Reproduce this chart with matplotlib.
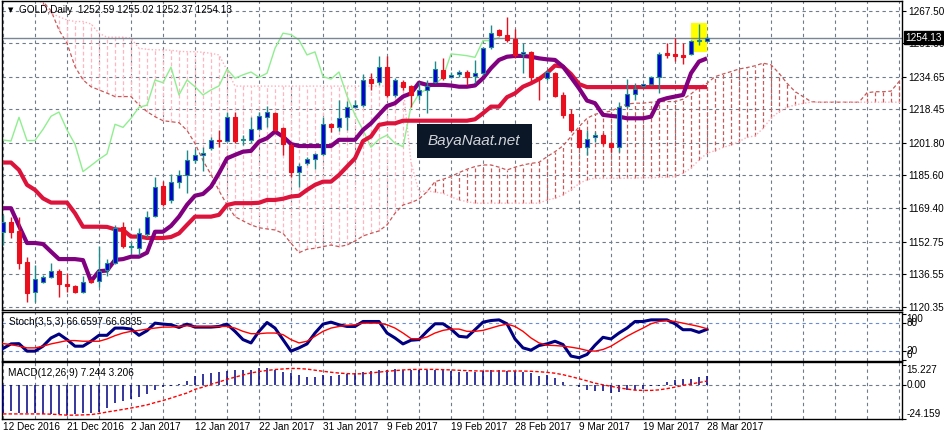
import numpy as np
import matplotlib
matplotlib.use('Agg')
import matplotlib.pyplot as plt
from matplotlib.patches import Rectangle
from matplotlib.transforms import blended_transform_factory

# ---- daily GOLD candles, 12 Dec 2016 .. 28 Mar 2017 (89 bars) ----
opens = [1157.5, 1162.3, 1158.0, 1142.4, 1127.5, 1132.8, 1135.0, 1138.0, 1131.6, 1130.5,
         1127.7, 1133.5, 1133.0, 1138.6, 1141.9, 1159.8, 1150.2, 1149.4, 1156.5, 1165.4,
         1180.4, 1173.4, 1182.2, 1185.7, 1193.1, 1195.6, 1199.1, 1203.4, 1202.9, 1214.5,
         1203.0, 1203.2, 1208.8, 1214.8, 1216.8, 1209.0, 1200.7, 1187.5, 1191.6, 1193.6,
         1196.3, 1211.0, 1209.5, 1214.5, 1219.5, 1220.6, 1233.4, 1231.9, 1239.4, 1225.8,
         1232.1, 1230.1, 1225.6, 1228.1, 1232.2, 1238.0, 1234.4, 1235.9, 1237.0, 1235.0,
         1236.4, 1249.6, 1257.9, 1255.6, 1253.3, 1246.0, 1247.1, 1234.5, 1233.9, 1236.4,
         1225.6, 1216.0, 1208.2, 1199.9, 1204.6, 1205.6, 1201.6, 1199.6, 1220.3, 1226.1,
         1230.2, 1230.9, 1234.4, 1246.3, 1246.1, 1245.5, 1246.0, 1252.6, 1252.59]
highs = [1166.0, 1164.8, 1164.8, 1145.2, 1141.0, 1136.0, 1142.0, 1139.0, 1137.3, 1131.2,
         1135.6, 1134.0, 1150.5, 1143.9, 1161.0, 1162.6, 1152.4, 1159.3, 1167.9, 1184.7,
         1182.8, 1186.3, 1188.3, 1198.3, 1198.6, 1199.6, 1204.9, 1208.2, 1217.3, 1217.3,
         1205.7, 1214.5, 1217.3, 1220.1, 1217.3, 1209.8, 1201.6, 1191.6, 1194.9, 1196.6,
         1214.8, 1211.5, 1223.0, 1222.5, 1223.1, 1236.0, 1236.4, 1245.0, 1245.0, 1233.9,
         1233.1, 1230.6, 1232.2, 1233.1, 1242.5, 1244.1, 1237.2, 1238.0, 1238.0, 1243.0,
         1249.6, 1260.4, 1258.5, 1264.2, 1258.3, 1251.3, 1247.6, 1234.7, 1237.8, 1237.2,
         1227.2, 1218.5, 1209.0, 1208.2, 1207.4, 1206.6, 1202.4, 1222.3, 1233.4, 1231.4,
         1231.2, 1235.0, 1247.1, 1251.3, 1253.8, 1251.6, 1252.9, 1260.9, 1255.02]
lows = [1151.0, 1154.4, 1138.9, 1122.5, 1122.5, 1132.0, 1134.5, 1125.3, 1127.5, 1127.0,
        1127.0, 1132.0, 1130.3, 1135.8, 1141.6, 1149.4, 1146.4, 1146.0, 1155.2, 1164.8,
        1170.4, 1171.8, 1179.5, 1176.7, 1192.0, 1187.8, 1198.3, 1199.9, 1202.4, 1201.6,
        1200.7, 1201.6, 1208.2, 1209.5, 1207.9, 1195.8, 1185.0, 1180.0, 1190.8, 1188.7,
        1195.8, 1207.4, 1207.9, 1208.2, 1219.0, 1219.8, 1228.1, 1230.5, 1224.8, 1224.8,
        1228.1, 1219.8, 1223.1, 1216.5, 1231.4, 1233.1, 1233.9, 1234.4, 1230.6, 1231.4,
        1235.5, 1248.3, 1255.0, 1251.9, 1244.0, 1236.4, 1232.2, 1223.1, 1233.1, 1224.4,
        1214.0, 1207.4, 1199.1, 1195.8, 1202.4, 1200.7, 1197.4, 1197.0, 1219.5, 1223.1,
        1229.8, 1230.6, 1226.7, 1243.8, 1242.6, 1240.9, 1245.5, 1250.4, 1252.37]
closes = [1162.5, 1157.6, 1142.2, 1127.3, 1134.0, 1135.0, 1138.0, 1131.5, 1130.5, 1127.7,
          1132.5, 1132.5, 1138.3, 1141.9, 1159.6, 1150.7, 1150.2, 1156.8, 1165.1, 1180.0,
          1171.6, 1182.2, 1185.8, 1193.1, 1195.8, 1196.6, 1203.2, 1202.7, 1214.5, 1202.9,
          1203.0, 1208.5, 1215.0, 1217.1, 1208.2, 1201.1, 1187.5, 1190.5, 1193.6, 1196.3,
          1211.0, 1209.5, 1214.0, 1219.5, 1220.5, 1233.0, 1231.7, 1239.4, 1225.6, 1233.0,
          1229.7, 1225.6, 1228.1, 1230.1, 1238.4, 1233.9, 1235.6, 1237.0, 1234.4, 1236.4,
          1248.8, 1256.3, 1255.6, 1252.9, 1245.5, 1247.0, 1234.7, 1233.5, 1237.0, 1225.1,
          1215.7, 1208.2, 1199.6, 1203.6, 1205.6, 1201.6, 1199.9, 1219.8, 1226.1, 1228.6,
          1230.9, 1234.4, 1246.0, 1245.6, 1245.1, 1244.3, 1252.6, 1252.6, 1254.13]

# ---- Ichimoku ----
tenkan = [1169.3, 1169.3, 1160.5, 1152.0, 1152.0, 1151.5, 1147.7, 1144.0, 1144.0, 1144.0,
          1143.5, 1133.0, 1138.0, 1138.3, 1143.6, 1144.0, 1145.2, 1145.2, 1147.2, 1157.6,
          1157.6, 1160.5, 1165.1, 1171.0, 1175.5, 1176.4, 1180.0, 1186.7, 1194.1, 1195.8,
          1197.4, 1197.8, 1202.4, 1204.1, 1207.4, 1204.9, 1201.2, 1200.2, 1200.2, 1200.2,
          1200.2, 1200.2, 1203.3, 1203.3, 1203.3, 1208.2, 1211.5, 1215.8, 1220.1, 1221.5,
          1224.8, 1226.4, 1231.7, 1230.6, 1230.6, 1230.6, 1230.3, 1229.7, 1229.7, 1230.3,
          1233.9, 1238.9, 1243.0, 1244.6, 1245.0, 1245.0, 1244.6, 1243.8, 1243.3, 1243.0,
          1239.7, 1234.4, 1228.9, 1222.8, 1221.5, 1215.7, 1215.2, 1214.8, 1214.0, 1214.0,
          1214.0, 1214.8, 1222.8, 1224.0, 1224.8, 1225.6, 1236.4, 1242.2, 1243.8]
kijun = [1192.0, 1192.0, 1188.3, 1180.9, 1178.4, 1174.2, 1172.1, 1172.1, 1172.1, 1166.8,
         1160.1, 1160.1, 1160.1, 1160.0, 1158.8, 1158.5, 1155.2, 1155.2, 1154.5, 1154.5,
         1154.5, 1155.0, 1156.8, 1161.0, 1165.1, 1165.1, 1165.1, 1166.0, 1170.9, 1171.8,
         1171.8, 1171.8, 1172.0, 1173.4, 1173.4, 1174.0, 1175.1, 1175.5, 1178.4, 1180.9,
         1182.5, 1182.5, 1185.8, 1190.0, 1194.1, 1202.7, 1205.0, 1210.7, 1211.5, 1211.5,
         1212.8, 1212.8, 1212.8, 1212.8, 1212.8, 1212.8, 1212.8, 1212.8, 1212.8, 1213.5,
         1216.5, 1219.8, 1219.8, 1224.5, 1226.4, 1229.7, 1231.4, 1233.5, 1236.5, 1240.2,
         1239.7, 1236.0, 1231.0, 1229.5, 1229.5, 1229.5, 1229.5, 1229.5, 1229.5, 1229.5,
         1229.5, 1229.5, 1229.5, 1229.5, 1229.5, 1229.5, 1229.5, 1229.5, 1229.5]
span_a = [1300.0, 1294.0, 1288.0, 1282.0, 1277.0, 1272.0, 1267.5, 1257.9, 1251.3, 1239.7,
          1233.1, 1229.7, 1228.1, 1226.5, 1224.8, 1224.8, 1224.8, 1220.6, 1217.3, 1214.8,
          1212.8, 1212.3, 1211.8, 1208.0, 1201.5, 1193.0, 1186.0, 1178.0, 1171.0, 1165.1,
          1163.0, 1161.0, 1159.6, 1159.0, 1158.5, 1156.8, 1151.9, 1147.2, 1148.9, 1149.4,
          1150.2, 1151.0, 1150.2, 1151.0, 1153.0, 1155.5, 1156.8, 1158.0, 1161.0, 1166.8,
          1170.9, 1172.1, 1173.8, 1177.5, 1182.5, 1183.7, 1185.0, 1187.0, 1188.7, 1190.0,
          1190.8, 1190.8, 1189.7, 1188.3, 1189.7, 1190.8, 1191.6, 1192.1, 1194.9, 1197.4,
          1200.3, 1204.9, 1209.8, 1214.0, 1216.0, 1216.8, 1217.6, 1219.4, 1221.1, 1221.5,
          1221.5, 1222.0, 1222.3, 1222.3, 1222.3, 1223.5, 1226.1, 1229.4, 1231.4, 1234.7,
          1236.0, 1237.2, 1238.5, 1239.2, 1240.1, 1241.4, 1240.6, 1236.4, 1231.4, 1227.3,
          1224.8, 1222.3, 1222.0, 1222.0, 1222.0, 1222.0, 1222.0, 1222.0, 1226.7, 1227.2,
          1227.2, 1227.5, 1232.2, 1236.0, 1238.0]
span_b = [1300.0, 1290.0, 1284.0, 1279.0, 1275.0, 1270.5, 1266.2, 1264.5, 1262.9, 1262.1,
          1262.1, 1260.9, 1256.3, 1254.3, 1254.3, 1254.3, 1253.8, 1248.8, 1248.3, 1248.0,
          1248.0, 1247.8, 1247.3, 1247.1, 1247.1, 1246.8, 1246.3, 1245.5, 1238.0, 1230.0,
          1230.0, 1230.0, 1230.0, 1230.0, 1230.0, 1230.0, 1230.0, 1230.0, 1230.0, 1230.0,
          1230.0, 1230.0, 1230.0, 1230.0, 1230.0, 1230.0, 1230.0, 1230.0, 1230.0, 1230.0,
          1230.0, 1192.0, 1177.5, 1177.9, 1177.3, 1176.7, 1175.0, 1173.4, 1172.6, 1171.8,
          1171.8, 1171.8, 1171.8, 1171.8, 1171.8, 1171.8, 1171.8, 1171.8, 1173.4, 1174.2,
          1176.0, 1178.5, 1181.5, 1183.5, 1184.2, 1184.2, 1184.2, 1184.2, 1184.2, 1184.3,
          1184.4, 1184.5, 1184.6, 1184.8, 1185.0, 1186.7, 1189.2, 1193.3, 1196.6, 1197.9,
          1199.5, 1200.7, 1202.4, 1204.6, 1205.2, 1209.0, 1214.0, 1217.3, 1219.5, 1220.6,
          1221.4, 1222.0, 1222.0, 1222.0, 1222.0, 1222.0, 1222.0, 1222.0, 1222.0, 1222.0,
          1222.0, 1222.0, 1222.0, 1222.0, 1222.0]

# ---- Stochastic(3,5,3) ----
stoch_k = [25.6, 35.5, 36.0, 20.0, 20.0, 30.6, 48.2, 56.7, 44.7, 30.6,
           30.6, 41.2, 53.9, 53.9, 69.4, 69.4, 67.3, 53.9, 63.8, 80.0,
           77.9, 76.5, 70.8, 77.9, 71.5, 71.5, 71.5, 72.9, 77.9, 62.4,
           44.7, 37.6, 62.4, 81.4, 69.4, 44.7, 20.0, 27.0, 35.5, 58.8,
           77.9, 82.1, 76.5, 72.9, 72.9, 83.5, 83.5, 83.5, 58.8, 48.2,
           35.5, 43.3, 44.7, 62.4, 78.6, 78.6, 67.3, 51.8, 50.0, 65.9,
           82.1, 85.6, 87.0, 78.6, 46.1, 27.0, 22.1, 32.0, 35.5, 41.2,
           34.1, 9.4, 5.9, 12.9, 32.7, 49.6, 46.1, 58.8, 69.4, 83.5,
           83.5, 87.0, 87.0, 87.0, 78.6, 65.9, 65.9, 60.2, 66.7]
stoch_d = [36.2, 34.0, 30.6, 27.0, 27.0, 30.6, 35.5, 39.0, 42.6, 42.6,
           41.2, 41.2, 41.2, 46.1, 53.2, 58.8, 62.4, 64.5, 67.3, 69.4,
           71.5, 71.5, 72.9, 74.4, 72.9, 72.9, 72.9, 72.9, 72.9, 69.4,
           62.4, 57.4, 57.4, 58.8, 58.8, 55.3, 44.7, 37.6, 41.2, 51.8,
           62.4, 69.4, 72.9, 75.1, 76.5, 80.0, 80.0, 80.0, 76.5, 69.4,
           58.8, 46.8, 46.1, 50.3, 58.8, 64.5, 67.3, 67.3, 62.4, 62.4,
           64.5, 69.4, 74.4, 77.9, 72.9, 62.4, 48.2, 37.6, 32.7, 32.0,
           30.6, 28.5, 25.6, 21.4, 20.0, 23.5, 30.6, 41.2, 51.8, 60.9,
           69.4, 78.6, 83.5, 85.6, 83.5, 80.0, 76.5, 72.9, 68.0]

# ---- MACD(12,26,9) ----
macd_hist = [-20.0, -18.8, -20.0, -20.0, -20.0, -20.5, -20.5, -20.8, -21.3, -20.5,
             -20.0, -20.0, -19.6, -16.4, -12.8, -11.6, -9.9, -8.7, -6.3, -3.1,
             -1.2, -0.3, 1.2, 3.4, 7.0, 8.5, 9.4, 10.1, 10.9, 11.4,
             11.4, 11.4, 12.6, 12.6, 11.4, 10.1, 9.4, 7.7, 6.5, 6.0,
             7.7, 7.0, 7.7, 8.2, 8.9, 10.1, 10.9, 11.4, 11.4, 11.8,
             11.4, 11.4, 11.4, 11.4, 11.4, 11.4, 10.9, 10.1, 10.1, 10.1,
             10.9, 11.4, 11.4, 10.9, 10.9, 10.1, 8.9, 7.0, 7.7, 5.3,
             2.9, 0.5, -1.2, -3.1, -3.9, -4.3, -5.6, -5.1, -3.1, -3.1,
             -2.7, -0.7, -0.2, 2.2, 4.1, 4.6, 4.8, 6.0, 7.244]
macd_signal = [-20.8, -20.8, -20.8, -20.8, -20.8, -20.8, -21.0, -21.3, -21.7, -21.7,
               -21.5, -21.3, -20.5, -19.4, -18.5, -17.5, -16.5, -15.4, -14.2, -12.5,
               -11.0, -9.2, -7.3, -5.5, -2.8, -1.2, 0.9, 2.6, 4.5, 6.1,
               7.7, 9.2, 10.2, 11.0, 11.7, 12.1, 12.5, 12.4, 12.0, 11.2,
               10.4, 9.7, 9.1, 8.7, 8.5, 8.6, 9.2, 9.8, 10.4, 10.9,
               11.4, 11.7, 11.8, 11.8, 11.8, 11.6, 11.4, 11.1, 10.9, 10.7,
               10.6, 10.6, 10.6, 10.6, 10.6, 10.6, 10.4, 10.1, 9.6, 9.0,
               7.9, 6.5, 5.0, 3.4, 1.7, 0.5, -0.6, -1.7, -2.6, -3.4,
               -3.6, -3.6, -3.2, -2.3, -1.2, 0.1, 1.1, 2.2, 3.206]

date_labels = ['12 Dec 2016', '21 Dec 2016', '2 Jan 2017', '12 Jan 2017', '22 Jan 2017',
               '31 Jan 2017', '9 Feb 2017', '19 Feb 2017', '28 Feb 2017', '9 Mar 2017',
               '19 Mar 2017', '28 Mar 2017']
price_ticks = [1267.50, 1251.30, 1234.65, 1218.45, 1201.80, 1185.60, 1169.40, 1152.75,
               1136.55, 1120.35]
bid = 1254.13

GRID = '#6f7c8a'
TEAL = '#1f8a8a'
BLUE = '#0000d0'
RED = '#e8101e'
FS = 7.2

x = np.arange(len(closes))
xf = np.arange(len(span_a))
o, h, l, c = map(np.array, (opens, highs, lows, closes))
sa, sb = np.array(span_a), np.array(span_b)

plt.rcParams['font.family'] = ['Liberation Sans', 'DejaVu Sans']
fig = plt.figure(figsize=(9.45, 4.4), dpi=100)
W, H = 945.0, 440.0
ax = fig.add_axes([2 / W, 1 - 310 / H, 900 / W, 309 / H])
ax_s = fig.add_axes([2 / W, 1 - 360.7 / H, 900 / W, 49 / H])
ax_m = fig.add_axes([2 / W, 1 - 418.5 / H, 900 / W, 56.5 / H])

for a in (ax, ax_s, ax_m):
    a.set_xlim(-0.125, 112.375)
    a.set_xticks([])
    for s in a.spines.values():
        s.set_color('black')
        s.set_linewidth(1)
    for gx in range(0, 113, 4):
        a.axvline(gx, color=GRID, lw=0.8, ls=(0, (3, 3)), zorder=0)
    a.yaxis.tick_right()
    a.tick_params(axis='y', length=3, width=0.8, labelsize=FS, pad=1.5)

# ---- main panel ----
ax.set_ylim(1118.7, 1272.3)
ax.set_yticks(price_ticks)
ax.set_yticklabels([f'{v:.2f}' for v in price_ticks])
for v in price_ticks:
    ax.axhline(v, color=GRID, lw=0.8, ls=(0, (3, 3)), zorder=0)

# cloud hatch
up = sa >= sb
ax.vlines(xf[up], sb[up], sa[up], colors='#c65a5a', lw=0.9, ls=(0, (3, 2)), zorder=1)
ax.vlines(xf[~up], sa[~up], sb[~up], colors='#ffb6c1', lw=0.9, ls=(0, (3, 2)), zorder=1)
ax.plot(xf, sa, color='#c65a5a', lw=0.9, ls=(0, (3, 2)), zorder=1)
ax.plot(xf, sb, color='#ffb0bc', lw=1.0, ls=(0, (1, 1.5)), zorder=1)

# chikou span: closes shifted back 26 bars
ax.plot(x - 26, c, color='#90ee90', lw=1.0, zorder=2)

# highlight box and bid line
ax.add_patch(Rectangle((86, 1247.0), 2, 14.4, facecolor='#ffff00', edgecolor='none', zorder=2))
ax.axhline(bid, color='#7a8694', lw=1.0, zorder=2)

ax.plot(x, kijun, color='#dc143c', lw=3, zorder=3, solid_capstyle='butt')
ax.plot(x, tenkan, color='#800080', lw=3, zorder=3, solid_capstyle='butt')

bull = c > o
doji = np.abs(c - o) < 0.3
wick_col = [RED if (not b and not d) else TEAL for b, d in zip(bull, doji)]
ax.vlines(x, l, h, colors=wick_col, lw=1, zorder=4)
body_lo = np.minimum(o, c)
body_h = np.maximum(np.abs(c - o), 0.5)
face = [TEAL if d else (BLUE if b else RED) for b, d in zip(bull, doji)]
edge = [TEAL if (b or d) else RED for b, d in zip(bull, doji)]
ax.bar(x, body_h, bottom=body_lo, width=0.6, color=face, edgecolor=edge, linewidth=0.8, zorder=5)

# logo
ax.add_patch(Rectangle((51.75, 1194.3), 14.35, 16.9, facecolor='#0b1626', edgecolor='none', zorder=6))
ax.text(58.9, 1202.7, 'BayaNaat.net', color='#cfd3d8', fontsize=11, style='italic',
        ha='center', va='center', zorder=7)

ax.text(0.007, 0.971, '\u25bc', transform=ax.transAxes, fontsize=5, va='center', ha='left',
        family=['DejaVu Sans'])
ax.text(0.019, 0.971, 'GOLD,Daily  1252.59 1255.02 1252.37 1254.13', transform=ax.transAxes,
        fontsize=FS, va='center', ha='left')
tr = blended_transform_factory(ax.transAxes, ax.transData)
ax.text(1.0035, bid, '1254.13', transform=tr, fontsize=FS, color='white', va='center', ha='left',
        bbox=dict(boxstyle='square,pad=0.15', facecolor='black', edgecolor='black'), zorder=10,
        clip_on=False)

# ---- stochastic panel ----
ax_s.set_ylim(-0.5, 104.5)
ax_s.plot(x, stoch_k, color='#000080', lw=2.2, zorder=3)
ax_s.plot(x, stoch_d, color='#ff0000', lw=1.0, zorder=4)
for v in (80, 20):
    ax_s.axhline(v, color='#6a8bd8', lw=0.8, ls=(0, (3, 3)), zorder=0)
ax_s.set_yticks([100, 80, 20, 0])
ax_s.set_yticklabels([])
trs = blended_transform_factory(ax_s.transAxes, ax_s.transData)
for v, lab, va in ((100, '100', 'top'), (80, '80', 'center'), (20, '20', 'center'), (0, '0', 'bottom')):
    ax_s.text(1.005, v, lab, transform=trs, fontsize=FS, va=va, ha='left', clip_on=False)
ax_s.text(0.008, 0.78, 'Stoch(3,5,3) 66.6597 66.6835', transform=ax_s.transAxes,
          fontsize=FS, va='center', ha='left')

# ---- MACD panel ----
ax_m.set_ylim(-23.8, 17.2)
ax_m.axhline(0, color=GRID, lw=0.8, ls=(0, (3, 3)), zorder=0)
ax_m.vlines(x, 0, macd_hist, colors='#000080', lw=1.1, zorder=3)
ax_m.plot(x, macd_signal, color='#ff0000', lw=1.0, ls=(0, (2.5, 1.5)), zorder=4)
ax_m.set_yticks([15.227, 0, -24.159])
ax_m.set_yticklabels([])
trm = blended_transform_factory(ax_m.transAxes, ax_m.transData)
for v, lab, va in ((15.227, '15.227', 'top'), (0, '0.00', 'center'), (-24.159, '-24.159', 'bottom')):
    ax_m.text(1.005, v, lab, transform=trm, fontsize=FS, va=va, ha='left', clip_on=False)
ax_m.text(0.007, 0.81, 'MACD(12,26,9) 7.244 3.206', transform=ax_m.transAxes,
          fontsize=FS, va='center', ha='left')

trx = blended_transform_factory(ax_m.transData, ax_m.transAxes)
for k, lab in enumerate(date_labels):
    ax_m.text(k * 8, -0.07, lab, transform=trx, fontsize=FS, va='top', ha='left', clip_on=False)

fig.savefig('out.png', dpi=100)
